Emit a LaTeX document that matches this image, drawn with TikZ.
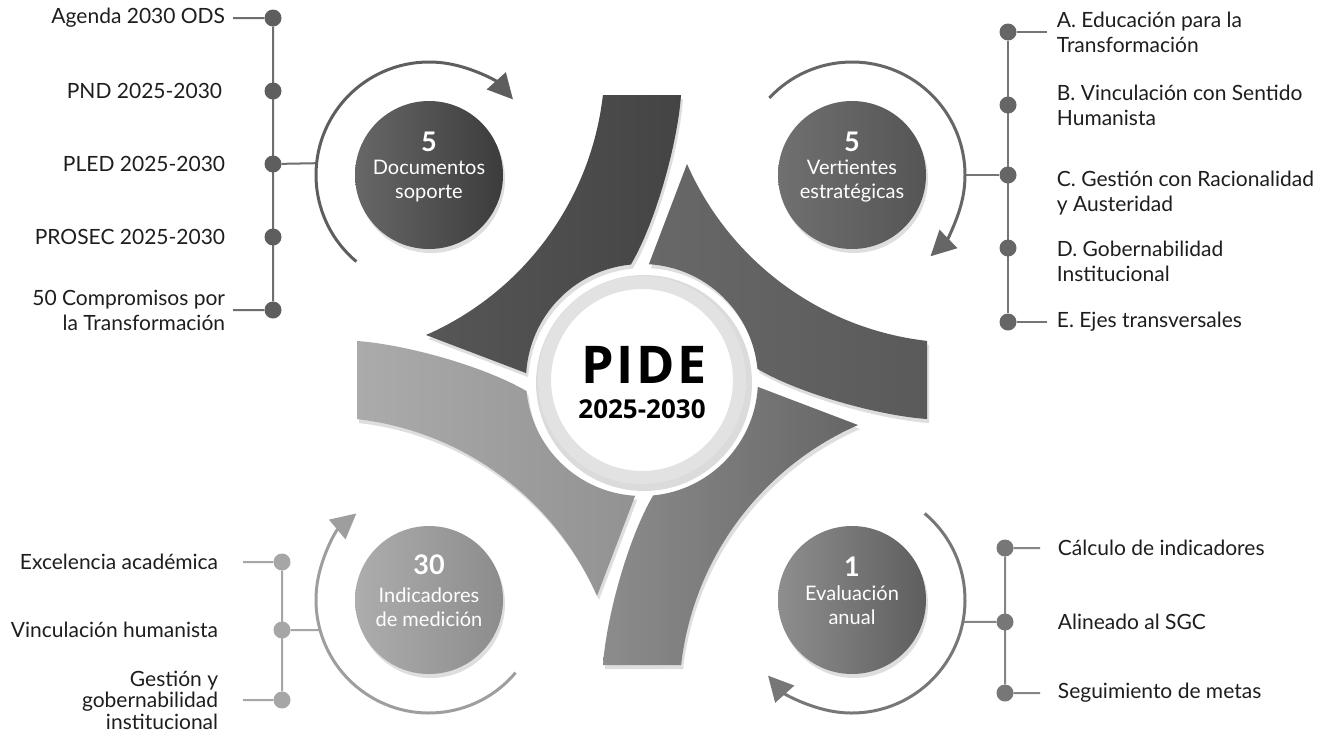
\documentclass[tikz,border=0pt]{standalone}
\usepackage{fontspec}
\setmainfont{Lato}
\newfontfamily\hubfont[LetterSpace=5]{Open Sans}
\newfontfamily\yearfont{Open Sans}
\usetikzlibrary{calc,positioning,arrows.meta,backgrounds}

\definecolor{armTa}{HTML}{575757}
\definecolor{armTb}{HTML}{444444}
\definecolor{armRa}{HTML}{686868}
\definecolor{armRb}{HTML}{5A5A5A}
\definecolor{armBa}{HTML}{8C8C8C}
\definecolor{armBb}{HTML}{666666}
\definecolor{armLa}{HTML}{ABABAB}
\definecolor{armLb}{HTML}{929292}
\definecolor{ring}{HTML}{E2E2E2}
\definecolor{bubTLa}{HTML}{676767}
\definecolor{bubTLb}{HTML}{3C3C3C}
\definecolor{bubTRa}{HTML}{707070}
\definecolor{bubTRb}{HTML}{555555}
\definecolor{bubBLa}{HTML}{ADADAD}
\definecolor{bubBLb}{HTML}{8C8C8C}
\definecolor{bubBRa}{HTML}{8E8E8E}
\definecolor{bubBRb}{HTML}{5E5E5E}
\definecolor{grayTL}{HTML}{5E5E5E}
\definecolor{grayTR}{HTML}{666666}
\definecolor{grayBL}{HTML}{A6A6A6}
\definecolor{grayBR}{HTML}{777777}
\definecolor{ink}{HTML}{1E1E1E}

\tikzset{
  soft shadow/.style={preaction={fill=black, opacity=0.13,
      transform canvas={shift={(2pt,-4pt)}}}},
  item/.style={inner sep=0pt, text=ink, font=\fontsize{21}{25}\selectfont},
  dot/.style={circle, inner sep=0pt, minimum size=17pt},
  link/.style={line width=2pt},
  bubble/.style={circle, inner sep=0pt, minimum size=148pt, soft shadow},
  bubnum/.style={inner sep=0pt, text=white, font=\fontsize{27}{27}\selectfont\bfseries},
  bublbl/.style={inner sep=0pt, text=white, align=center, font=\fontsize{20}{23.5}\selectfont},
  turn/.style={line width=3pt, -{Triangle[length=25pt,width=25pt]}}
}

\begin{document}
\begin{tikzpicture}[x=1pt,y=-1pt]
\begin{pgfonlayer}{background}
  \fill[white] (0,0) rectangle (1326,732);
\end{pgfonlayer}
\useasboundingbox (0,0) rectangle (1326,732);
\coordinate (c) at (642,380);

% the four arms
\foreach \rot/\ca/\cb in {0/armTa/armTb, -90/armRa/armRb, 180/armBa/armBb, 90/armLa/armLb}
  \shade[shift={(c)}, rotate=\rot, left color=\ca, right color=\cb, soft shadow]
    (-39,-285) -- (39,-285) .. controls (36,-240) and (15,-160) .. (264.5:116)
    arc[start angle=264.5, end angle=183.4, radius=116] -- (-216,-45)
    arc[start angle=66.3, end angle=6.5, radius=299] -- cycle;

% hub
\fill[black, opacity=0.14] ($(c)+(2,3)$) circle[radius=108];
\node[circle, fill=white, draw=ring, line width=13pt, minimum size=195pt,
      inner sep=0pt] (hub) at (c) {};
\node[inner sep=0pt, font=\hubfont\bfseries\fontsize{52}{52}\selectfont] (hubtitle)
  at ($(c)+(2,-15)$) {PIDE};
\node[inner sep=0pt, font=\yearfont\bfseries\fontsize{26}{26}\selectfont] (hubyears)
  at ($(c)+(0,29)$) {2025-2030};

% bubbles
\node[bubble, left color=bubTLa, right color=bubTLb] (docs) at (429,175) {};
\node[bubble, left color=bubTRa, right color=bubTRb] (vert) at (852,175) {};
\node[bubble, left color=bubBLa, right color=bubBLb] (indi) at (429,600) {};
\node[bubble, left color=bubBRa, right color=bubBRb] (eval) at (852,600) {};
\node[bubnum] (docsnum) at ($(docs)+(0,-33)$) {5};
\node[bublbl] (docslbl) at ($(docs)+(0,6)$) {Documentos\\soporte};
\node[bubnum] (vertnum) at ($(vert)+(0,-33)$) {5};
\node[bublbl] (vertlbl) at ($(vert)+(0,6)$) {Vertientes\\estratégicas};
\node[bubnum] (indinum) at ($(indi)+(0,-35)$) {30};
\node[bublbl] (indilbl) at ($(indi)+(0,7)$) {Indicadores\\de medición};
\node[bubnum] (evalnum) at ($(eval)+(0,-33)$) {1};
\node[bublbl] (evallbl) at ($(eval)+(0,5)$) {Evaluación\\anual};

% circular arrows
\draw[turn, grayTL] ($(docs)+(130:113)$) arc[start angle=130, end angle=318, radius=113];
\draw[turn, grayTR] ($(vert)+(223:113)$) arc[start angle=223, end angle=406, radius=113];
\draw[turn, grayBL!95!black] ($(indi)+(40:113)$) arc[start angle=40, end angle=230, radius=113];
\draw[turn, grayBR] ($(eval)+(310:113)$) arc[start angle=310, end angle=498, radius=113];
\coordinate (docsarc) at ($(docs)+(186:113)$);
\coordinate (vertarc) at ($(vert)+(0:113)$);
\coordinate (indiarc) at ($(indi)+(164.6:113)$);
\coordinate (evalarc) at ($(eval)+(11.2:113)$);

% documentos soporte
\foreach \n/\y in {1/18,2/91,3/164,4/237,5/310}
  \node[dot, fill=grayTL] (ds\n) at (273,\y) {};
\node[item, left=39pt of ds1] (ds1txt) {Agenda 2030 ODS};
\node[item, left=42pt of ds2] (ds2txt) {PND 2025-2030};
\node[item, left=39pt of ds3] (ds3txt) {PLED 2025-2030};
\node[item, left=39pt of ds4] (ds4txt) {PROSEC 2025-2030};
\node[item, left=39pt of ds5, align=right] (ds5txt) {50 Compromisos por\\la Transformación};
\coordinate (ds1end) at ($(ds1)+(-40,0)$);
\coordinate (ds5end) at ($(ds5)+(-40,0)$);

% vertientes
\foreach \n/\y in {1/32,2/105,3/175,4/248,5/322}
  \node[dot, fill=grayTR] (vs\n) at (1008,\y) {};
\node[item, right=40pt of vs1, align=left] (vs1txt) {A. Educación para la\\Transformación};
\node[item, right=40pt of vs2, align=left] (vs2txt) {B. Vinculación con Sentido\\Humanista};
\node[item, right=40pt of vs3, align=left, yshift=-18pt] (vs3txt) {C. Gestión con Racionalidad\\y Austeridad};
\node[item, right=40pt of vs4, align=left, yshift=-13pt] (vs4txt) {D. Gobernabilidad\\Institucional};
\node[item, right=40pt of vs5] (vs5txt) {E. Ejes transversales};
\coordinate (vs1end) at ($(vs1)+(39,0)$);
\coordinate (vs5end) at ($(vs5)+(39,0)$);

% indicadores
\foreach \n/\y in {1/562,2/630,3/700}
  \node[dot, fill=grayBL] (is\n) at (282,\y) {};
\node[item, left=55pt of is1] (is1txt) {Excelencia académica};
\node[item, left=55pt of is2] (is2txt) {Vinculación humanista};
\node[item, left=55pt of is3, align=right, font=\fontsize{21}{21.5}\selectfont] (is3txt)
  {Gestión y\\gobernabilidad\\institucional};
\coordinate (is1end) at ($(is1)+(-39,0)$);
\coordinate (is3end) at ($(is3)+(-39,0)$);

% evaluacion
\foreach \n/\y in {1/548,2/622,3/693}
  \node[dot, fill=grayBR] (es\n) at (1005,\y) {};
\node[item, right=44pt of es1] (es1txt) {Cálculo de indicadores};
\node[item, right=44pt of es2] (es2txt) {Alineado al SGC};
\node[item, right=44pt of es3] (es3txt) {Seguimiento de metas};
\coordinate (es1end) at ($(es1)+(35,0)$);
\coordinate (es3end) at ($(es3)+(35,0)$);

\begin{pgfonlayer}{background}
  \draw[link, grayTL!90!white] (ds1) -- (ds5) (ds1) -- (ds1end) (ds5) -- (ds5end) (ds3) -- (docsarc);
  \draw[link, grayTR!90!white] (vs1) -- (vs5) (vs1) -- (vs1end) (vs5) -- (vs5end) (vs3) -- (vertarc);
  \draw[link, grayBL] (is1) -- (is3) (is1) -- (is1end) (is3) -- (is3end) (is2) -- (indiarc);
  \draw[link, grayBR!90!white] (es1) -- (es3) (es1) -- (es1end) (es3) -- (es3end) (es2) -- (evalarc);
\end{pgfonlayer}
\end{tikzpicture}
\end{document}
